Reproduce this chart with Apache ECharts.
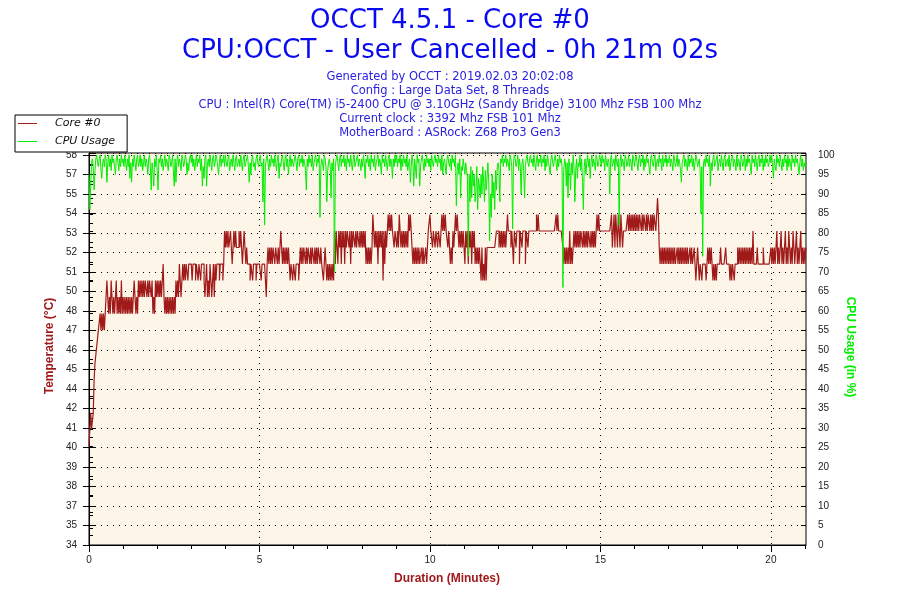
<!DOCTYPE html>
<html>
<head>
<meta charset="utf-8">
<script src="https://cdn.jsdelivr.net/npm/echarts@6/dist/echarts.min.js"></script>
<style>
html,body{margin:0;padding:0;background:#fff;}
#chart{width:900px;height:600px;}
</style>
</head>
<body>
<div id="chart"></div>
<script>
// ---- data ----
const SAMPLE_STEP_MIN = 0.025; // one sample every 1.5 s
const DURATION_MIN = 21.03;    // 0h 21m 02s

// Core #0 temperature (°C), one row per minute (40 samples per row)
const TEMP_CORE0 = [
  40,41,42,41,41,42,44,45,45,46,46,47,47,48,47,48,47,48,47,48, 48,50,49,48,49,48,50,49,48,49,48,49,50,48,49,48,49,48,50,48,
  49,48,49,48,49,48,49,48,49,48,49,48,49,50,49,48,49,48,50,49, 50,49,50,49,50,49,50,50,49,50,49,50,50,49,50,48,49,48,50,49,
  50,49,50,49,50,49,50,51,49,48,49,48,49,48,49,48,49,48,49,48, 49,48,50,49,50,49,51,50,49,50,51,50,51,50,51,51,50,51,51,51,
  51,50,51,51,51,50,51,51,50,51,51,50,51,51,51,50,49,50,51,49, 50,49,51,50,49,50,51,49,51,50,51,51,51,50,51,51,51,50,51,53,
  52,53,52,53,52,52,53,52,51,52,53,52,53,52,52,52,53,52,53,52, 51,52,53,52,51,52,51,51,51,50,51,51,50,51,51,51,50,51,51,51,
  51,51,50,51,51,51,51,51,49,51,52,51,52,51,52,51,52,52,51,52, 52,51,52,51,52,53,52,51,52,51,52,51,52,51,52,51,50,51,51,50,
  51,51,50,51,51,51,50,51,52,51,52,51,52,52,51,52,51,52,52,51, 52,51,52,52,51,52,51,52,51,52,52,51,52,51,51,50,51,52,51,50,
  51,50,51,50,51,50,51,50,53,51,53,52,51,53,52,53,51,53,52,53, 51,53,52,53,53,52,53,51,53,52,53,53,52,53,52,53,53,52,53,52,
  53,52,53,52,53,51,52,51,52,51,52,51,52,54,53,52,53,52,53,51, 53,52,53,52,53,50,53,51,53,52,53,54,53,54,53,54,53,53,52,53,
  53,52,53,52,54,53,52,53,52,53,52,53,52,53,52,54,53,54,53,52, 51,52,51,52,51,52,51,52,51,51,52,51,52,51,51,52,51,52,53,53,
  54,53,53,52,53,53,52,53,53,52,53,53,52,53,54,53,54,53,54,53, 53,52,53,52,51,52,51,53,52,53,54,53,54,53,52,53,52,53,52,53,
  53,51,53,52,53,51,53,52,53,51,53,52,53,51,52,51,52,51,52,51, 50,52,50,51,50,52,50,52,52,52,52,52,52,52,52,52,52,52,53,53,
  53,52,53,52,53,52,53,52,53,52,53,54,53,53,53,52,53,53,51,53, 53,52,53,53,53,51,53,53,52,53,53,53,51,53,53,52,53,53,53,53,
  53,53,53,53,53,54,53,54,53,53,53,53,53,53,53,53,53,53,53,53, 53,53,53,53,53,53,53,53,54,53,54,53,53,53,53,53,52,51,52,51,
  52,51,52,51,53,51,52,51,52,53,52,53,52,53,52,53,52,53,53,52, 53,52,53,52,53,52,53,53,52,53,52,53,52,53,52,53,54,53,54,53,
  53,53,53,53,53,53,53,53,53,53,53,53,53,54,52,53,54,52,54,53, 52,54,53,52,54,53,52,53,53,53,53,53,54,53,54,53,54,53,54,53,
  54,53,54,53,54,53,54,54,53,54,53,54,54,53,54,53,54,54,53,54, 53,54,53,54,54,53,54,55,54,52,51,52,51,52,51,52,51,52,51,52,
  51,52,51,52,51,52,51,52,51,51,52,51,52,51,52,51,52,51,52,51, 52,51,52,51,51,52,51,52,51,51,52,51,50,51,52,51,50,51,51,50,
  51,51,51,51,50,51,52,51,52,51,52,51,50,51,50,51,50,51,51,51, 51,52,51,51,51,51,51,52,51,51,51,51,50,51,50,51,51,50,51,51,
  51,52,51,52,51,52,51,52,51,52,51,52,51,52,51,52,51,52,51,53, 51,51,51,51,52,51,51,51,51,51,51,52,51,51,51,51,51,51,51,51,
  52,51,52,51,52,51,52,53,51,52,51,52,53,51,52,51,52,53,51,52, 51,53,52,51,52,51,53,52,51,52,53,51,52,51,52,53,51,52,51,52,51,52
];

// CPU usage (%), one row per minute (40 samples per row)
const CPU_USAGE = [
  95,86,92,98,99,97,91,96,99,100,98,97,99,100,96,94,98,99,97,100, 99,93,98,100,97,99,96,100,98,99,97,95,99,100,98,96,99,97,100,98,
  99,97,100,98,96,99,97,100,94,98,93,99,97,100,98,96,99,100,97,98, 100,97,99,96,98,100,97,99,98,95,99,100,97,91,98,96,92,99,97,100,
  96,91,99,98,100,97,99,96,98,100,97,99,98,96,100,99,97,98,100,96, 92,99,93,98,100,97,99,98,96,100,99,97,98,100,99,95,98,96,99,100,
  98,100,97,99,96,98,100,97,99,98,100,96,99,92,97,94,99,100,92,98, 99,97,100,98,96,99,100,97,98,100,99,97,95,98,100,97,99,98,100,97,
  100,98,97,99,100,96,98,99,97,100,98,96,99,100,97,98,99,97,100,98, 96,99,100,97,98,99,100,97,93,98,95,99,100,97,98,96,99,100,98,97,
  99,100,97,98,88,99,82,97,99,100,98,96,99,97,100,98,99,97,100,98, 96,99,100,94,98,97,99,100,98,96,99,100,97,99,95,98,100,97,99,98,
  97,99,100,98,96,99,100,97,99,98,100,97,99,98,96,91,99,97,100,98, 99,97,100,96,98,99,100,97,99,98,100,84,97,99,98,96,100,99,97,88,
  96,98,99,97,89,98,96,99,70,97,99,100,98,96,99,100,97,99,98,100, 97,99,96,100,98,99,97,100,98,96,99,100,97,98,99,100,97,99,98,96,
  99,97,100,98,94,99,98,100,97,99,96,100,98,99,97,100,96,98,99,100, 97,99,98,95,100,98,99,97,100,98,96,99,100,97,99,98,94,99,97,100,
  98,100,97,99,98,100,96,99,97,100,98,99,97,100,96,98,99,93,97,100, 98,92,99,97,94,100,98,99,92,97,99,100,98,96,99,97,100,98,99,97,
  99,96,100,98,97,99,100,98,99,97,100,98,99,96,100,95,98,99,97,95, 99,100,98,97,99,96,100,98,99,97,100,87,96,98,95,99,89,97,96,99,
  97,95,98,96,94,74,95,88,97,89,96,92,95,88,91,97,86,94,92,89, 95,90,97,93,88,96,91,94,98,93,78,90,84,95,89,93,86,96,91,97,
  98,96,88,99,98,100,97,99,98,100,97,99,98,96,100,99,97,81,98,100, 99,97,98,100,96,99,97,90,98,99,96,89,97,99,100,98,97,99,100,98,
  99,97,100,98,96,99,100,97,99,98,100,97,99,98,100,96,99,97,100,98, 97,95,99,100,98,97,99,100,98,96,99,97,100,98,99,97,66,96,99,98,
  92,98,89,99,97,91,98,95,100,97,88,96,99,94,98,97,100,96,99,93, 86,97,99,95,98,100,97,99,94,98,100,97,99,98,96,100,99,97,98,100,
  99,97,100,98,99,96,100,98,97,99,98,90,99,100,97,98,99,96,100,98, 97,99,82,98,100,97,99,98,96,100,99,97,98,100,97,99,98,96,100,99,
  97,99,100,98,96,99,100,97,99,98,100,96,99,97,100,98,99,97,95,99, 100,98,97,99,100,96,98,99,97,100,98,99,96,100,97,99,98,100,97,99,
  98,100,97,99,98,96,100,99,97,98,100,97,99,98,96,93,98,99,100,97, 99,98,96,100,97,99,98,100,97,99,96,98,100,99,97,98,99,96,85,97,
  74,98,99,97,100,98,99,97,100,92,98,96,99,100,97,98,99,100,96,98, 99,97,100,98,96,99,100,97,98,99,97,100,96,98,99,100,97,99,98,96,
  100,97,99,98,96,100,99,97,98,100,96,99,97,100,98,99,97,95,100,98, 99,97,100,98,96,99,100,97,99,98,100,96,99,97,100,98,99,97,98,100,
  98,100,97,94,99,97,96,100,98,99,97,100,98,96,99,97,100,98,99,96, 100,97,99,98,96,100,98,99,97,100,98,99,97,95,98,100,97,99,96,98,97,99
];

// axes and tick labels
const TEMP_MIN = 34, TEMP_TOP_TICK = 57.6;
const CPU_MIN = 0, CPU_TOP_TICK = 100, AXIS_HEADROOM = 0.005; // plot frame sits slightly above the top tick
const TEMP_TICK_LABELS = ['34','35','37','38','39','40','41','42','44','45','46','47','48','50','51','52','53','54','55','57','58'];
const X_MAJOR_TICKS = [0,5,10,15,20];
const X_MINOR_TICKS = [1,2,3,4,6,7,8,9,11,12,13,14,16,17,18,19,21];

const TITLE_LINES = ['OCCT 4.5.1 - Core #0', 'CPU:OCCT - User Cancelled - 0h 21m 02s'];
const INFO_LINES = [
  'Generated by OCCT : 2019.02.03 20:02:08',
  'Config : Large Data Set, 8 Threads',
  'CPU : Intel(R) Core(TM) i5-2400 CPU @ 3.10GHz (Sandy Bridge) 3100 Mhz FSB 100 Mhz',
  'Current clock : 3392 Mhz FSB 101 Mhz',
  'MotherBoard : ASRock: Z68 Pro3 Gen3'
];
const SERIES_NAMES = ['Core #0', 'CPU Usage'];

// ---- build ----
const tempStep = (TEMP_TOP_TICK - TEMP_MIN) / (TEMP_TICK_LABELS.length - 1);
const tempMajor = TEMP_TICK_LABELS.map((_, i) => +(TEMP_MIN + i * tempStep).toFixed(4));
const tempInt = [];
for (let d = Math.ceil(TEMP_MIN); d <= Math.floor(TEMP_TOP_TICK); d++) tempInt.push(d);
const tempMax = TEMP_TOP_TICK + (TEMP_TOP_TICK - TEMP_MIN) * AXIS_HEADROOM;
const cpuMax = CPU_TOP_TICK + (CPU_TOP_TICK - CPU_MIN) * AXIS_HEADROOM;

const tempData = TEMP_CORE0.map((v, i) => [+(i * SAMPLE_STEP_MIN).toFixed(3), v]);
const cpuData = CPU_USAGE.map((v, i) => [+(i * SAMPLE_STEP_MIN).toFixed(3), v]);

const RED = '#a11a1a', GREEN = '#00ee00', TITLE_BLUE = '#0a0af0', INFO_BLUE = '#2a20e0';
const labelFont = {color: '#222', fontFamily: 'Liberation Sans', fontSize: 10};
const dotted = {color: '#000', width: 1, type: [1, 5]};

const chart = echarts.init(document.getElementById('chart'), null, {renderer: 'canvas'});

const graphic = [];
TITLE_LINES.forEach((t, i) => graphic.push({
  type: 'text', x: 450, y: 21 + i * 30, silent: true,
  style: {text: t, textAlign: 'center', textVerticalAlign: 'middle', fill: TITLE_BLUE, font: '26px "DejaVu Sans"'}
}));
INFO_LINES.forEach((t, i) => graphic.push({
  type: 'text', x: 450, y: 77.5 + i * 13.8, silent: true,
  style: {text: t, textAlign: 'center', textVerticalAlign: 'middle', fill: INFO_BLUE, font: '11.5px "DejaVu Sans"'}
}));
graphic.push({type: 'text', x: 50, y: 346, rotation: Math.PI / 2, silent: true,
  style: {text: 'Temperature (°C)', textAlign: 'center', textVerticalAlign: 'middle', fill: RED, font: 'bold 12px "Liberation Sans"'}});
graphic.push({type: 'text', x: 850, y: 347, rotation: -Math.PI / 2, silent: true,
  style: {text: 'CPU Usage (in %)', textAlign: 'center', textVerticalAlign: 'middle', fill: GREEN, font: 'bold 12px "Liberation Sans"'}});
graphic.push({type: 'text', x: 447, y: 579, silent: true,
  style: {text: 'Duration (Minutes)', textAlign: 'center', textVerticalAlign: 'middle', fill: RED, font: 'bold 12px "Liberation Sans"'}});

chart.setOption({
  animation: false,
  backgroundColor: '#fff',
  graphic: graphic,
  legend: {
    data: SERIES_NAMES,
    orient: 'vertical', left: 15, top: 115,
    icon: 'rect', itemWidth: 19, itemHeight: 1, itemGap: 7,
    padding: [3, 12, 5, 3],
    backgroundColor: '#fff', borderColor: '#000', borderWidth: 1,
    selectedMode: false,
    textStyle: {fontFamily: 'DejaVu Sans', fontStyle: 'italic', fontSize: 11, color: '#111', padding: [0, 0, 0, 13]}
  },
  grid: {left: 89, right: 94, top: 153, bottom: 55, show: true, backgroundColor: '#fdf6e8', borderColor: '#000', borderWidth: 1},
  xAxis: [{
    type: 'value', min: 0, max: DURATION_MIN, interval: 5,
    axisLine: {lineStyle: {color: '#000'}},
    axisTick: {show: true, length: 7, customValues: X_MAJOR_TICKS, lineStyle: {color: '#000'}},
    axisLabel: Object.assign({margin: 10, customValues: X_MAJOR_TICKS}, labelFont),
    splitLine: {show: true, lineStyle: dotted}
  }, {
    type: 'value', min: 0, max: DURATION_MIN, position: 'bottom',
    axisLine: {show: false},
    axisTick: {show: true, length: 4, customValues: X_MINOR_TICKS, lineStyle: {color: '#000'}},
    axisLabel: {show: false}, splitLine: {show: false}
  }],
  yAxis: [{
    type: 'value', min: TEMP_MIN, max: tempMax, position: 'left',
    axisLine: {show: true, lineStyle: {color: '#000'}},
    axisTick: {show: true, length: 6, customValues: tempMajor, lineStyle: {color: '#000'}},
    axisLabel: Object.assign({margin: 12, customValues: tempMajor,
      formatter: v => TEMP_TICK_LABELS[Math.round((v - TEMP_MIN) / tempStep)] || ''}, labelFont),
    splitLine: {show: false}
  }, {
    type: 'value', min: CPU_MIN, max: cpuMax, interval: 5, position: 'right',
    axisLine: {show: true, lineStyle: {color: '#000'}},
    axisTick: {show: true, length: 6, lineStyle: {color: '#000'}},
    minorTick: {show: true, splitNumber: 2, length: 4, lineStyle: {color: '#000'}},
    axisLabel: Object.assign({margin: 12, showMaxLabel: false,
      formatter: v => (v <= CPU_TOP_TICK ? String(v) : '')}, labelFont),
    splitLine: {show: true, lineStyle: dotted}
  }, {
    type: 'value', min: TEMP_MIN, max: tempMax, position: 'left',
    axisLine: {show: false},
    axisTick: {show: true, inside: true, length: 4, customValues: tempInt, lineStyle: {color: '#000'}},
    axisLabel: {show: false}, splitLine: {show: false}
  }, {
    type: 'value', min: CPU_MIN, max: cpuMax, interval: 5, position: 'right',
    axisLine: {show: false},
    axisTick: {show: true, inside: true, length: 5, lineStyle: {color: '#000'}},
    axisLabel: {show: false}, splitLine: {show: false}
  }],
  series: [{
    name: SERIES_NAMES[0], type: 'line', xAxisIndex: 0, yAxisIndex: 0,
    data: tempData, step: 'end', showSymbol: false, symbol: 'none', sampling: null,
    lineStyle: {color: RED, width: 1.2}, itemStyle: {color: RED}, z: 3
  }, {
    name: SERIES_NAMES[1], type: 'line', xAxisIndex: 0, yAxisIndex: 1,
    data: cpuData, step: 'end', showSymbol: false, symbol: 'none', sampling: null,
    lineStyle: {color: GREEN, width: 1}, itemStyle: {color: GREEN}, z: 4
  }]
});
</script>
</body>
</html>
